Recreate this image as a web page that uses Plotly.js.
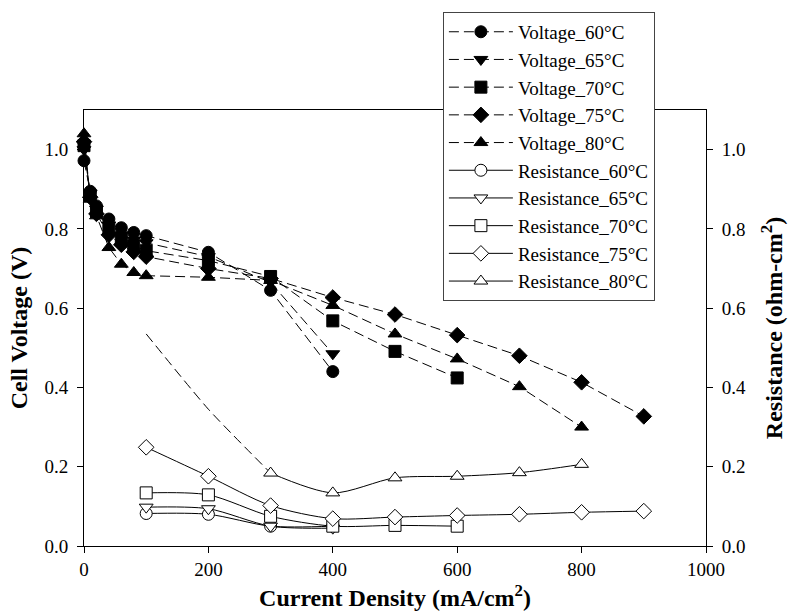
<!DOCTYPE html>
<html>
<head>
<meta charset="utf-8">
<script src="https://cdn.plot.ly/plotly-3.0.1.min.js"></script>
<style>html,body{margin:0;padding:0;background:#fff;}#chart{width:789px;height:613px;}</style>
</head>
<body>
<div id="chart"></div>
<script>
// Current density (mA/cm2)
var xV60 = [0, 10, 20, 40, 60, 80, 100, 200, 300, 400];
var xV65 = [0, 10, 20, 40, 60, 80, 100, 200, 300, 400];
var xV70 = [0, 10, 20, 40, 60, 80, 100, 200, 300, 400, 500, 600];
var xV75 = [0, 10, 20, 40, 60, 80, 100, 200, 300, 400, 500, 600, 700, 800, 900];
var xV80 = [0, 10, 20, 40, 60, 80, 100, 200, 300, 400, 500, 600, 700, 800];
// Cell voltage (V)
var v60 = [0.972, 0.895, 0.858, 0.825, 0.803, 0.791, 0.783, 0.741, 0.645, 0.440];
var v65 = [1.000, 0.890, 0.850, 0.810, 0.785, 0.772, 0.765, 0.730, 0.665, 0.485];
var v70 = [1.010, 0.885, 0.845, 0.800, 0.775, 0.757, 0.745, 0.720, 0.680, 0.568, 0.491, 0.424];
var v75 = [1.020, 0.880, 0.838, 0.785, 0.760, 0.742, 0.730, 0.700, 0.675, 0.627, 0.584, 0.532, 0.480, 0.413, 0.327];
var v80 = [1.040, 0.875, 0.833, 0.753, 0.711, 0.690, 0.682, 0.678, 0.670, 0.607, 0.535, 0.472, 0.402, 0.300];
// Resistance (ohm-cm2)
var xR60 = [100, 200, 300, 400];
var xR65 = [100, 200, 300, 400];
var xR70 = [100, 200, 300, 400, 500, 600];
var xR75 = [100, 200, 300, 400, 500, 600, 700, 800, 900];
var xR80 = [300, 400, 500, 600, 700, 800];
var r60 = [0.082, 0.080, 0.050, 0.050];
var r65 = [0.098, 0.094, 0.050, 0.045];
var r70 = [0.134, 0.129, 0.075, 0.050, 0.052, 0.050];
var r75 = [0.249, 0.176, 0.102, 0.069, 0.073, 0.077, 0.080, 0.085, 0.088];
var r80 = [0.184, 0.134, 0.172, 0.176, 0.185, 0.206];
// dashed extension of the 80°C resistance curve (no markers)
var xR80ext = [100, 200, 300];
var r80ext = [0.535, 0.345, 0.184];

var names = ['Voltage_60°C', 'Voltage_65°C', 'Voltage_70°C', 'Voltage_75°C', 'Voltage_80°C',
             'Resistance_60°C', 'Resistance_65°C', 'Resistance_70°C', 'Resistance_75°C', 'Resistance_80°C'];
var xTicks = [0, 200, 400, 600, 800, 1000];
var yTicks = [0, 0.2, 0.4, 0.6, 0.8, 1.0];

var serif = '"Liberation Serif", "Times New Roman", serif';
var dashPat = '10px,5px';

function vTrace(x, y, name, sym, g) {
  return {x: x, y: y, name: name, type: 'scatter', mode: 'lines+markers', legendgroup: g,
    cliponaxis: false,
    line: {color: '#000', width: 1, dash: dashPat},
    marker: {symbol: sym, size: 12, color: '#000', line: {color: '#000', width: 1}}};
}
function rTrace(x, y, name, sym, g) {
  return {x: x, y: y, name: name, type: 'scatter', mode: 'lines+markers', legendgroup: g,
    yaxis: 'y2', cliponaxis: false,
    line: {color: '#000', width: 1, shape: 'spline', smoothing: 0.8},
    marker: {symbol: sym, size: 12, color: '#fff', line: {color: '#000', width: 1}}};
}

var data = [
  {x: xR80ext, y: r80ext, type: 'scatter', mode: 'lines', yaxis: 'y2', showlegend: false,
   line: {color: '#000', width: 1, dash: dashPat, shape: 'spline', smoothing: 0.6}},
  vTrace(xV60, v60, names[0], 'circle', 'a'),
  vTrace(xV65, v65, names[1], 'triangle-down', 'b'),
  vTrace(xV70, v70, names[2], 'square', 'c'),
  vTrace(xV75, v75, names[3], 'diamond', 'd'),
  vTrace(xV80, v80, names[4], 'triangle-up', 'e'),
  rTrace(xR60, r60, names[5], 'circle', 'f'),
  rTrace(xR65, r65, names[6], 'triangle-down', 'g'),
  rTrace(xR70, r70, names[7], 'square', 'h'),
  rTrace(xR75, r75, names[8], 'diamond', 'i'),
  rTrace(xR80, r80, names[9], 'triangle-up', 'j')
];

var layout = {
  width: 789, height: 613,
  margin: {l: 84, r: 83, t: 110, b: 67, pad: 0},
  paper_bgcolor: '#fff', plot_bgcolor: '#fff',
  font: {family: serif, size: 19, color: '#000'},
  showlegend: true,
  legend: {x: 0.577, xanchor: 'left', y: 1.225, yanchor: 'top',
    bgcolor: '#fff', bordercolor: '#444', borderwidth: 1,
    font: {family: serif, size: 19, color: '#000'},
    tracegroupgap: 0, traceorder: 'normal', itemwidth: 64},
  xaxis: {range: [0, 1000], tickvals: xTicks, ticktext: xTicks.map(String),
    showgrid: false, zeroline: false, showline: true, linecolor: '#000', linewidth: 1,
    mirror: true, ticks: 'outside', ticklen: 6, tickcolor: '#000',
    tickfont: {family: serif, size: 19},
    title: {text: '<b>Current Density (mA/cm<sup>2</sup>)</b>', font: {family: serif, size: 24}, standoff: 10}},
  yaxis: {range: [0, 1.1], tickvals: yTicks, ticktext: yTicks.map(function(v){return v.toFixed(1);}),
    showgrid: false, zeroline: false, showline: true, linecolor: '#000', linewidth: 1,
    ticks: 'outside', ticklen: 6, tickcolor: '#000', ticklabelstandoff: 5,
    tickfont: {family: serif, size: 19},
    title: {text: '<b>Cell Voltage (V)</b>', font: {family: serif, size: 24}, standoff: 10}},
  yaxis2: {range: [0, 1.1], overlaying: 'y', side: 'right', tickvals: yTicks,
    ticktext: yTicks.map(function(v){return v.toFixed(1);}),
    showgrid: false, zeroline: false, showline: true, linecolor: '#000', linewidth: 1,
    ticks: 'outside', ticklen: 6, tickcolor: '#000', ticklabelstandoff: 5,
    tickfont: {family: serif, size: 19},
    title: {text: '<b>Resistance (ohm-cm<sup>2</sup>)</b>', font: {family: serif, size: 24}, standoff: 20}}
};

Plotly.newPlot('chart', data, layout, {displayModeBar: false, staticPlot: true});
</script>
</body>
</html>
